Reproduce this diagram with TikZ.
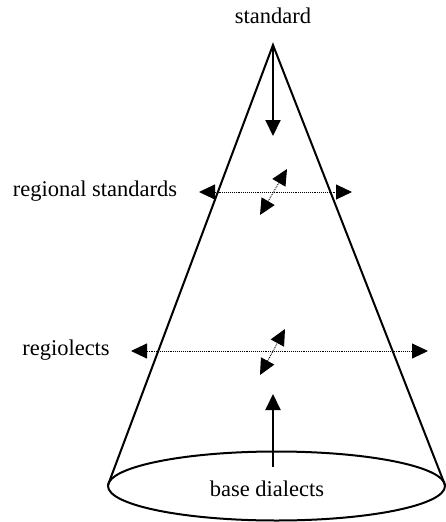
\documentclass[tikz,border=0pt]{standalone}
\usepackage{fontspec}
\setmainfont{Liberation Serif}
\usetikzlibrary{arrows.meta}
\begin{document}
\begin{tikzpicture}[x=1pt,y=-1pt,
  lbl/.style={font=\fontsize{22.5}{26}\selectfont, inner sep=0pt},
  cone/.style={line width=2pt},
  bigarrow/.style={line width=2pt, -{Triangle[length=16pt,width=15pt]}},
  dotarrow/.style={line width=0.9pt, densely dotted, {Triangle[length=16pt,width=15pt]}-{Triangle[length=16pt,width=15pt]}}]
\useasboundingbox (0,0) rectangle (446,522);
% cone
\coordinate (apex) at (273,45);
\coordinate (bl) at (108,485);
\coordinate (br) at (445,485);
\coordinate (base) at (276.5,486);
\draw[cone] (bl) -- (apex) -- (br);
\draw[cone] (base) ellipse (168.5 and 34.5);
% labels
\node[lbl] (std) at (273,16) {standard};
\node[lbl] (rstd) at (95,191) {regional standards};
\node[lbl] (reg) at (66,350) {regiolects};
\node[lbl] (bd) at (267,489) {base dialects};
% vertical arrows
\coordinate (downend) at (273,136);
\coordinate (upstart) at (273,467);
\coordinate (upend) at (273,394);
\draw[bigarrow] (273,47) -- (downend);
\draw[bigarrow] (upstart) -- (upend);
% regional standards level
\coordinate (rsL) at (199,192);
\coordinate (rsR) at (352,192);
\draw[dotarrow] (rsL) -- (rsR);
\coordinate (rdA) at (260,215);
\coordinate (rdB) at (287,169);
\draw[dotarrow] (rdA) -- (rdB);
% regiolects level
\coordinate (rgL) at (131,351);
\coordinate (rgR) at (428,351);
\draw[dotarrow] (rgL) -- (rgR);
\coordinate (gdA) at (260,375);
\coordinate (gdB) at (285,329);
\draw[dotarrow] (gdA) -- (gdB);
\end{tikzpicture}
\end{document}
